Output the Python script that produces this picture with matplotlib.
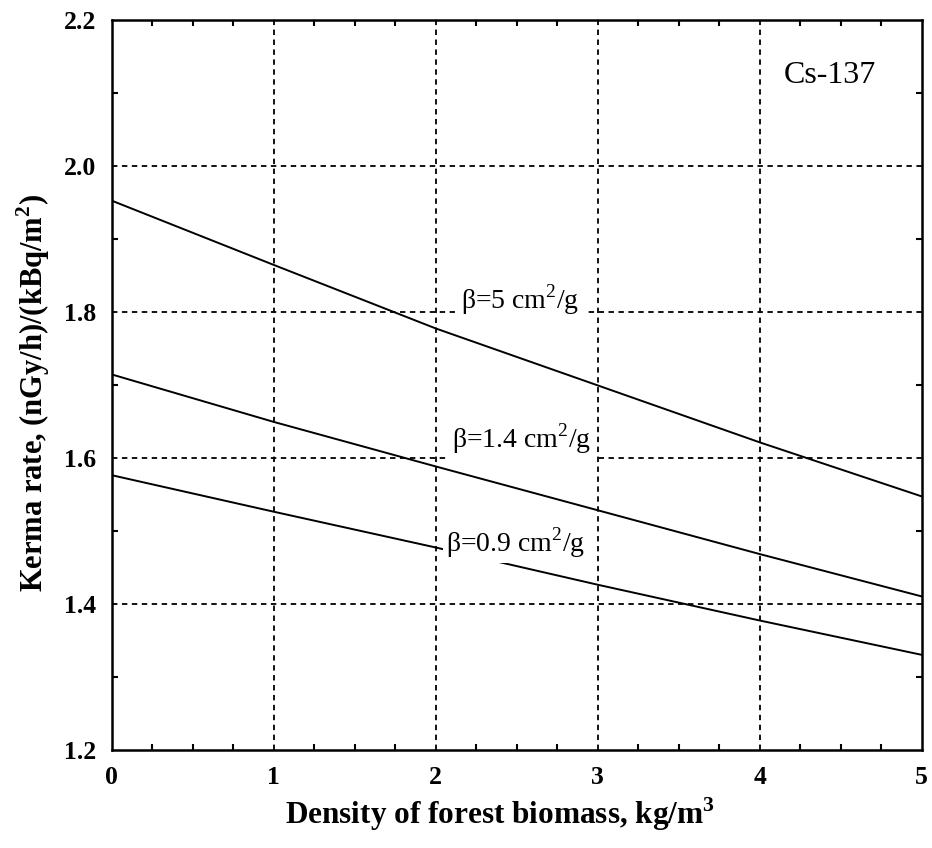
import numpy as np
import matplotlib
matplotlib.use('Agg')
import matplotlib.pyplot as plt
from matplotlib.ticker import MultipleLocator

plt.rcParams['font.family'] = 'Liberation Serif'
plt.rcParams['mathtext.fontset'] = 'custom'
plt.rcParams['mathtext.rm'] = 'Liberation Serif'
plt.rcParams['mathtext.bf'] = 'Liberation Serif:bold'

density = [0, 1, 2, 3, 4, 5]
kerma_b5 = [1.953, 1.865, 1.778, 1.700, 1.622, 1.548]
kerma_b14 = [1.715, 1.650, 1.589, 1.529, 1.469, 1.411]
kerma_b09 = [1.577, 1.527, 1.478, 1.427, 1.378, 1.331]

fig = plt.figure(figsize=(9.32, 8.48), dpi=100)
ax = fig.add_axes([0.120, 0.115, 0.869, 0.861])

for y in (kerma_b5, kerma_b14, kerma_b09):
    ax.plot(density, y, color='black', lw=1.4, zorder=2)

ax.set_xlim(0, 5)
ax.set_ylim(1.2, 2.2)
ax.xaxis.set_major_locator(MultipleLocator(1))
ax.xaxis.set_minor_locator(MultipleLocator(0.25))
ax.yaxis.set_minor_locator(MultipleLocator(0.1))
ax.set_yticks([1.2, 1.4, 1.6, 1.8, 2.0, 2.2])
ax.set_yticklabels(['1.2', '1.4', '1.6', '1.8', '2.0', '2.2'])

for v in [1, 2, 3, 4]:
    ax.axvline(v, color='black', lw=1.3, ls=(0, (3, 2.5)), zorder=1)
for v in [1.4, 1.6, 1.8, 2.0]:
    ax.axhline(v, color='black', lw=1.3, ls=(0, (3, 2.5)), zorder=1)

ax.tick_params(which='major', length=0, pad=11, labelsize=18.5)
ax.tick_params(which='minor', direction='in', length=4, width=1.5,
               top=True, right=True)
for lab in ax.get_xticklabels() + ax.get_yticklabels():
    lab.set_fontweight('bold')
for s in ax.spines.values():
    s.set_linewidth(1.8)

box = dict(facecolor='white', edgecolor='none', pad=4)
ax.text(2.52, 1.817, r'β=5 cm$^2$/g', fontsize=20, ha='center', va='center',
        bbox=box, zorder=3)
ax.text(2.53, 1.627, r'β=1.4 cm$^2$/g', fontsize=20, ha='center', va='center',
        bbox=box, zorder=3)
ax.text(2.49, 1.484, r'β=0.9 cm$^2$/g', fontsize=20, ha='center', va='center',
        bbox=dict(facecolor='white', edgecolor='none', pad=2), zorder=3)
ax.text(4.43, 2.125, 'Cs-137', fontsize=23, ha='center', va='center')

ax.set_xlabel(r'Density of forest biomass, kg/m$^\mathbf{3}$', fontsize=22.5,
              fontweight='bold')
ax.xaxis.set_label_coords(0.479, -0.062)
ax.xaxis.label.set_va('top')
ax.set_ylabel(r'Kerma rate, (nGy/h)/(kBq/m$^\mathbf{2}$)', fontsize=22,
              fontweight='bold')
ax.yaxis.set_label_coords(-0.074, 0.49)

fig.savefig('out.png', dpi=100)
